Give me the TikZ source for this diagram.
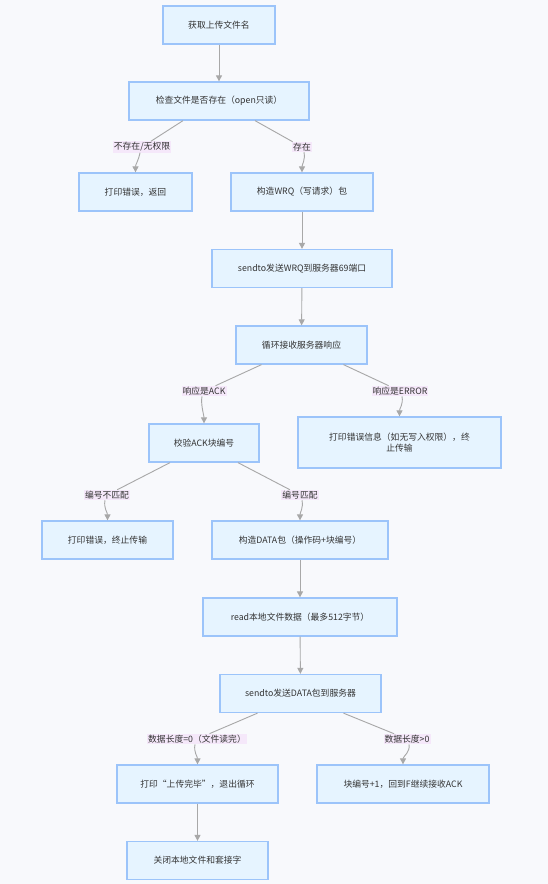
\documentclass[tikz,border=0pt]{standalone}
\usepackage{fontspec}
\setmainfont{Noto Sans CJK SC}
\usetikzlibrary{arrows.meta}
\definecolor{bgcol}{HTML}{F8F9FC}
\definecolor{boxfill}{HTML}{E6F4FF}
\definecolor{boxline}{HTML}{9CC4FA}
\definecolor{edgecol}{HTML}{A8A8A8}
\definecolor{labfill}{HTML}{F5E8FA}
\definecolor{txtcol}{HTML}{333333}

\begin{document}
\begin{tikzpicture}[x=0.5mm, y=-0.5mm,
  every node/.style={font=\fontsize{12.5}{16}\selectfont, text=txtcol},
  box/.style={draw=boxline, fill=boxfill, line width=1.8pt, minimum height=19mm, inner sep=0pt, align=center},
  elabel/.style={fill=labfill, inner sep=1.5pt},
  flow/.style={draw=edgecol, line width=1.3pt, -{Triangle[length=3mm, width=3mm]}}]

% background and page size
\fill[bgcol] (0,0) rectangle (548,884);

% upper part: file check and WRQ
\node[box, minimum width=56mm] (name) at (219,25) {获取上传文件名};
\node[box, minimum width=90mm] (chk) at (219,101) {检查文件是否存在（open只读）};
\node[box, minimum width=56.5mm] (err1) at (135.5,192) {打印错误，返回};
\node[box, minimum width=71mm] (wrq) at (302,192) {构造WRQ（写请求）包};
\node[box, minimum width=90mm] (sendw) at (302,268.5) {sendto发送WRQ到服务器69端口};
\node[box, minimum width=65.5mm] (recv) at (301.5,345) {循环接收服务器响应};

% ACK / ERROR branch
\node[box, minimum width=55mm] (ack) at (204,443) {校验ACK块编号};
\node[box, minimum width=101.5mm, minimum height=25.5mm] (err2) at (399.5,442.5) {打印错误信息（如无写入权限），终\\止传输};
\node[box, minimum width=65.5mm] (err3) at (107.5,540) {打印错误，终止传输};
\node[box, minimum width=88mm] (data) at (300,540) {构造DATA包（操作码+块编号）};
\node[box, minimum width=97mm] (read) at (300,617) {read本地文件数据（最多512字节）};
\node[box, minimum width=80.5mm] (sendd) at (300.5,693.5) {sendto发送DATA包到服务器};

% end of loop
\node[box, minimum width=80.5mm] (done) at (197.5,784) {打印“上传完毕”，退出循环};
\node[box, minimum width=86mm] (next) at (403,784) {块编号+1，回到F继续接收ACK};
\node[box, minimum width=70.5mm] (close) at (197.5,860.5) {关闭本地文件和套接字};

% edge labels
\node[elabel] (l1) at (142,147) {不存在/无权限};
\node[elabel] (l2) at (302,147) {存在};
\node[elabel] (l3) at (204,391) {响应是ACK};
\node[elabel] (l4) at (400,391) {响应是ERROR};
\node[elabel] (l5) at (107,495) {编号不匹配};
\node[elabel] (l6) at (300,495) {编号匹配};
\node[elabel] (l7) at (197,739) {数据长度=0（文件读完）};
\node[elabel] (l8) at (407,739) {数据长度>0};

% straight edges
\draw[flow] (name) -- (chk);
\draw[flow] (wrq) -- (sendw);
\draw[flow] (sendw) -- (recv);
\draw[flow] (data) -- (read);
\draw[flow] (read) -- (sendd);
\draw[flow] (done) -- (close);

% branching edges through the labels
\draw[flow] ([xshift=-18mm]chk.south) -- (l1) ([xshift=-1mm]l1.south) .. controls +(-1.5,8) and +(0,-8) .. (err1.north);
\draw[flow] ([xshift=18mm]chk.south) -- (l2) ([xshift=1mm]l2.south) .. controls +(1.5,8) and +(0,-8) .. (wrq.north);
\draw[flow] ([xshift=-20mm]recv.south) -- (l3) ([xshift=-1mm]l3.south) .. controls +(-1.5,8) and +(0,-8) .. (ack.north);
\draw[flow] ([xshift=21mm]recv.south) -- (l4) ([xshift=1mm]l4.south) .. controls +(1.5,8) and +(0,-8) .. (err2.north);
\draw[flow] ([xshift=-17mm]ack.south) -- (l5) ([xshift=-1mm]l5.south) .. controls +(-1.5,8) and +(0,-8) .. (err3.north);
\draw[flow] ([xshift=17mm]ack.south) -- (l6) ([xshift=1mm]l6.south) .. controls +(1.5,8) and +(0,-8) .. (data.north);
\draw[flow] ([xshift=-21.5mm]sendd.south) -- (l7) ([xshift=-1mm]l7.south) .. controls +(-1.5,8) and +(0,-8) .. (done.north);
\draw[flow] ([xshift=21.5mm]sendd.south) -- (l8) ([xshift=1mm]l8.south) .. controls +(1.5,8) and +(0,-8) .. (next.north);

\end{tikzpicture}
\end{document}
